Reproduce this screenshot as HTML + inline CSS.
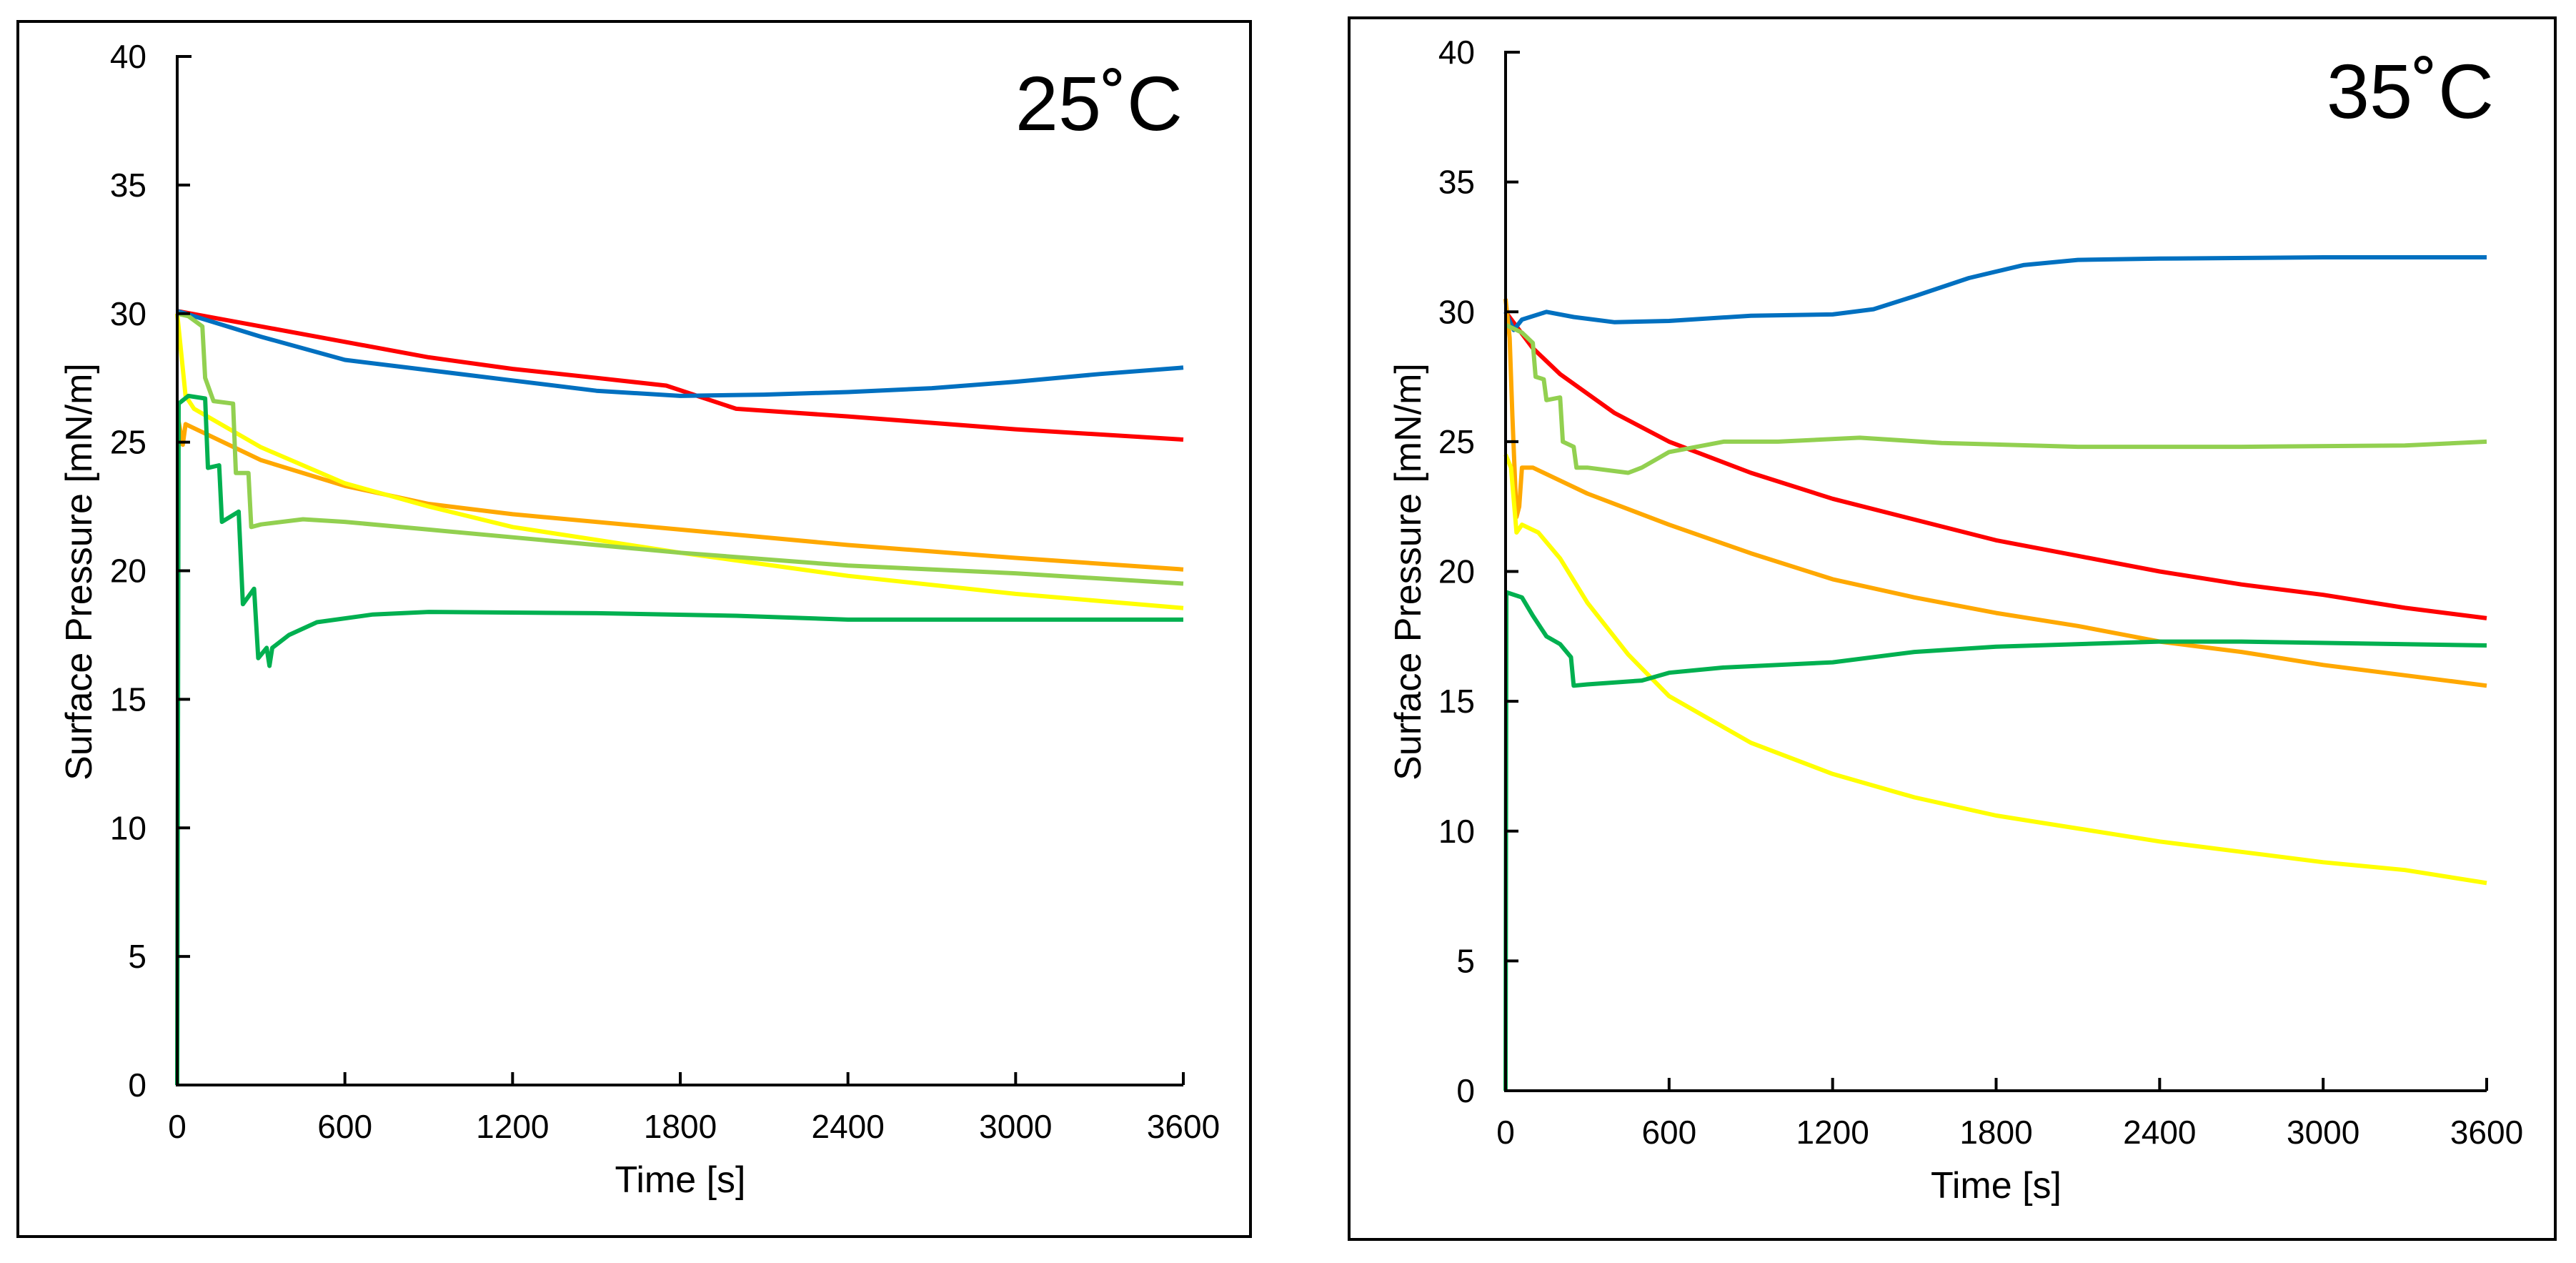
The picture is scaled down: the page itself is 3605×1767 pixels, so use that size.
<!DOCTYPE html>
<html><head><meta charset="utf-8"><style>
html,body{margin:0;padding:0;background:#fff;}
svg{display:block;font-family:"Liberation Sans",Arial,sans-serif;}
</style></head><body>
<svg id="fig" width="3605" height="1767" viewBox="0 0 3605 1767" xmlns="http://www.w3.org/2000/svg">
<rect x="0" y="0" width="3605" height="1767" fill="#fff"/>
<g id="p1"></g>
<g id="p2"></g>
</svg>
<script>
const xTicks=[0,600,1200,1800,2400,3000,3600];
const yTicks=[0,5,10,15,20,25,30,35,40];
const seriesNames=['red','blue','orange','yellow','light-green','dark-green'];
const seriesColors=['#ff0000','#0070c0','#ffa800','#ffff00','#92d050','#00b050'];
// 25C data [time, pressure]
const a_red=[[0,30.1],[300,29.5],[600,28.9],[900,28.3],[1200,27.85],[1500,27.5],[1750,27.2],[2000,26.3],[2400,26.0],[3000,25.5],[3600,25.1]];
const a_blue=[[0,30.1],[150,29.6],[300,29.1],[600,28.2],[900,27.8],[1200,27.4],[1500,27.0],[1800,26.8],[2100,26.85],[2400,26.95],[2700,27.1],[3000,27.35],[3300,27.65],[3600,27.9]];
const a_orange=[[5,25.8],[20,24.9],[30,25.7],[300,24.3],[600,23.3],[900,22.6],[1200,22.2],[1800,21.6],[2400,21.0],[3000,20.5],[3600,20.05]];
const a_yellow=[[0,30],[30,26.8],[60,26.3],[300,24.8],[600,23.4],[900,22.5],[1200,21.7],[1800,20.7],[2400,19.8],[3000,19.1],[3600,18.55]];
const a_lgreen=[[0,30],[40,29.9],[90,29.5],[100,27.5],[130,26.6],[200,26.5],[210,23.8],[255,23.8],[265,21.7],[300,21.8],[450,22.0],[600,21.9],[900,21.6],[1200,21.3],[1500,21.0],[1800,20.7],[2400,20.2],[3000,19.9],[3600,19.5]];
const a_dgreen=[[0,0],[5,26.5],[40,26.8],[100,26.7],[110,24.0],[150,24.1],[160,21.9],[220,22.3],[235,18.7],[275,19.3],[290,16.6],[320,17.0],[330,16.3],[340,17.0],[400,17.5],[500,18.0],[700,18.3],[900,18.4],[1500,18.35],[2000,18.25],[2400,18.1],[3600,18.1]];
// 35C data
const b_red=[[0,30],[100,28.6],[200,27.6],[400,26.1],[600,25.0],[900,23.8],[1200,22.8],[1500,22.0],[1800,21.2],[2100,20.6],[2400,20.0],[2700,19.5],[3000,19.1],[3300,18.6],[3600,18.2]];
const b_blue=[[0,30],[30,29.3],[60,29.7],[150,30.0],[250,29.8],[400,29.6],[600,29.65],[900,29.85],[1200,29.9],[1350,30.1],[1500,30.6],[1700,31.3],[1900,31.8],[2100,32.0],[2400,32.05],[3000,32.1],[3600,32.1]];
const b_orange=[[0,30.5],[15,29.0],[25,26.0],[40,22.1],[50,22.5],[60,24.0],[100,24.0],[300,23.0],[600,21.8],[900,20.7],[1200,19.7],[1500,19.0],[1800,18.4],[2100,17.9],[2400,17.3],[2700,16.9],[3000,16.4],[3300,16.0],[3600,15.6]];
const b_yellow=[[0,24.5],[20,24.0],[40,21.5],[60,21.8],[120,21.5],[200,20.5],[300,18.8],[450,16.8],[600,15.2],[900,13.4],[1200,12.2],[1500,11.3],[1800,10.6],[2100,10.1],[2400,9.6],[2700,9.2],[3000,8.8],[3300,8.5],[3600,8.0]];
const b_lgreen=[[0,29.5],[60,29.2],[100,28.8],[110,27.5],[140,27.4],[150,26.6],[200,26.7],[210,25.0],[250,24.8],[260,24.0],[300,24.0],[450,23.8],[500,24.0],[600,24.6],[800,25.0],[1000,25.0],[1300,25.15],[1600,24.95],[2100,24.8],[2700,24.8],[3300,24.85],[3600,25.0]];
const b_dgreen=[[0,0],[3,19.2],[60,19.0],[100,18.3],[150,17.5],[200,17.2],[240,16.7],[250,15.6],[300,15.65],[500,15.8],[600,16.1],[800,16.3],[1200,16.5],[1500,16.9],[1800,17.1],[2400,17.3],[2700,17.3],[3600,17.15]];

const NS='http://www.w3.org/2000/svg';
function mk(parent,tag,attrs,text){const e=document.createElementNS(NS,tag);for(const k in attrs)e.setAttribute(k,attrs[k]);if(text!==undefined)e.textContent=text;parent.appendChild(e);return e;}

function panel(g,cfg,data){
  const sx=t=>cfg.x0+(cfg.x1-cfg.x0)*t/3600;
  const sy=v=>cfg.y0-(cfg.y0-cfg.y40)*v/40;
  let e=mk(g,'rect',{x:cfg.fx,y:cfg.fy,width:cfg.fw,height:cfg.fh,fill:'none',stroke:'#000','stroke-width':4});
  
  
  // series
  data.forEach((d,i)=>{
    const p=mk(g,'polyline',{points:d.map(q=>sx(q[0]).toFixed(1)+','+sy(q[1]).toFixed(1)).join(' '),fill:'none',stroke:seriesColors[i],'stroke-width':6,'stroke-linejoin':'round'});
    
    
  });
  // dark green again on top of vertical start
  // axes
  e=mk(g,'path',{d:`M${cfg.x0+20},${cfg.y40}H${cfg.x0}V${cfg.y0}H${cfg.x1}`,fill:'none',stroke:'#000','stroke-width':4});
  
  
  xTicks.forEach(t=>{
    const tk=mk(g,'line',{x1:sx(t),x2:sx(t),y1:cfg.y0,y2:cfg.y0-18,stroke:'#000','stroke-width':4});
    
    
    const lb=mk(g,'text',{x:sx(t),y:cfg.y0+74,'font-size':46,'text-anchor':'middle',fill:'#000'},String(t));
    
    
  });
  yTicks.forEach(v=>{
    const tk=mk(g,'line',{x1:cfg.x0,x2:cfg.x0+18,y1:sy(v),y2:sy(v),stroke:'#000','stroke-width':4});
    
    
    const lb=mk(g,'text',{x:cfg.x0-43,y:sy(v)+16,'font-size':46,'text-anchor':'end',fill:'#000'},String(v));
    
    
  });
  e=mk(g,'text',{x:(cfg.x0+cfg.x1)/2,y:cfg.y0+150,'font-size':52,'text-anchor':'middle',fill:'#000'},'Time [s]');
  
  
  e=mk(g,'text',{x:0,y:0,'font-size':52,'text-anchor':'middle',fill:'#000',transform:`translate(${cfg.ytx},${cfg.yty}) rotate(-90)`},'Surface Pressure [mN/m]');
  
  
  e=mk(g,'text',{x:cfg.tx,y:cfg.ty,'font-size':108,'text-anchor':'end',fill:'#000'},cfg.title);
  
  
}
panel(document.getElementById('p1'),{fx:25,fy:30,fw:1725,fh:1700,x0:248,x1:1656,y0:1518,y40:79,ytx:128,yty:800,tx:1655,ty:182,title:'25˚C'},[a_red,a_blue,a_orange,a_yellow,a_lgreen,a_dgreen]);
panel(document.getElementById('p2'),{fx:1888,fy:25,fw:1688,fh:1709,x0:2107,x1:3480,y0:1526,y40:73,ytx:1988,yty:800,tx:3490,ty:165,title:'35˚C'},[b_red,b_blue,b_orange,b_yellow,b_lgreen,b_dgreen]);
</script>
</body></html>
